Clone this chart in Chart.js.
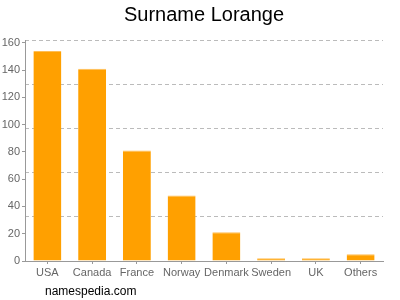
<!DOCTYPE html>
<html>
<head>
<meta charset="utf-8">
<script src="https://cdn.jsdelivr.net/npm/chart.js@4/dist/chart.umd.min.js"></script>
<style>
  html, body { margin: 0; padding: 0; background: #fff; }
</style>
</head>
<body>
<canvas id="chart" width="400" height="300"></canvas>
<script>
const countries = ["USA", "Canada", "France", "Norway", "Denmark", "Sweden", "UK", "Others"];
const counts = [154, 141, 81, 48, 21, 2, 2, 5];
const yTicks = [0, 20, 40, 60, 80, 100, 120, 140, 160];
const gridLines = [0, 32.4, 64.8, 97.2, 129.6, 162];
const titleText = "Surname Lorange";
const footerText = "namespedia.com";

const textPlugin = {
    id: "texts",
    afterDraw(chart) {
        let ctx = chart.ctx;
        ctx.save();
        ctx.fillStyle = "#000";
        ctx.textBaseline = "middle";
        ctx.textAlign = "center";
        ctx.font = "20px 'Liberation Sans', Arial, sans-serif";
        ctx.fillText(titleText, 204, 15);
        ctx.textAlign = "left";
        ctx.font = "12px 'Liberation Sans', Arial, sans-serif";
        ctx.fillText(footerText, 45, 292);
        ctx.restore();
    }
};

new Chart(document.getElementById("chart").getContext("2d"), {
    type: "bar",
    data: {
        labels: countries,
        datasets: [{
            data: counts,
            backgroundColor: "#ffa000",
            borderColor: "#ffbe55",
            borderWidth: { top: 1, left: 0, right: 0, bottom: 0 },
            borderSkipped: "start",
            categoryPercentage: 0.625,
            barPercentage: 1.0,
        }],
    },
    options: {
        responsive: false,
        animation: false,
        maintainAspectRatio: false,
        layout: { padding: { top: 40, right: 17, left: 0, bottom: 0 } },
        plugins: { legend: { display: false }, tooltip: { enabled: false }, title: { display: false } },
        scales: {
            x: {
                grid: { offset: false, drawOnChartArea: false, drawTicks: true, tickLength: 3, color: "#999" },
                border: { color: "#999" },
                ticks: { color: "#666", font: { size: 11, family: "'Liberation Sans', Arial, sans-serif" }, padding: 2, maxRotation: 0, autoSkip: false },
                afterFit(axis) { axis.height = 39; },
            },
            y: {
                min: 0,
                max: 162,
                afterBuildTicks(axis) { axis.ticks = yTicks.map(v => ({ value: v })); },
                grid: { drawOnChartArea: false, drawTicks: true, tickLength: 3, color: "#999" },
                border: { color: "#999" },
                ticks: { color: "#666", font: { size: 11, family: "'Liberation Sans', Arial, sans-serif" }, padding: 2 },
                afterFit(axis) { axis.width = 25; },
            },
            g: {
                position: "left",
                min: 0,
                max: 162,
                afterBuildTicks(axis) { axis.ticks = gridLines.map(v => ({ value: v })); },
                grid: { drawTicks: false, color: "#bbb" },
                border: { display: false, dash: [4, 3] },
                ticks: { display: false },
                afterFit(axis) { axis.width = 0; },
            },
        },
    },
    plugins: [textPlugin],
});
</script>
</body>
</html>
